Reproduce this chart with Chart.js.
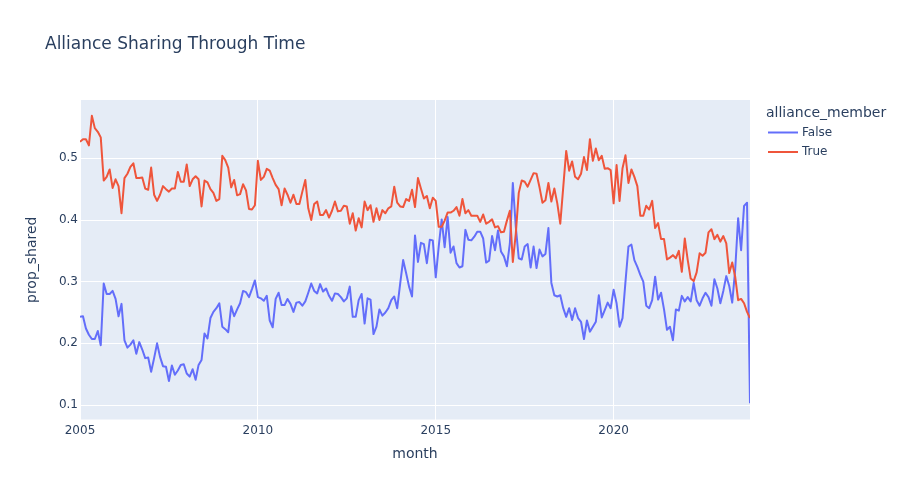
<!DOCTYPE html>
<html>
<head>
<meta charset="utf-8">
<script src="https://cdn.jsdelivr.net/npm/chart.js@4.4.1/dist/chart.umd.min.js"></script>
<style>
html,body{margin:0;padding:0;background:#ffffff;}
#wrap{position:relative;width:900px;height:500px;}
</style>
</head>
<body>
<div id="wrap"><canvas id="c" width="900" height="500"></canvas></div>
<script>
// ---- data ----
const chartTitle = 'Alliance Sharing Through Time';
const legendTitle = 'alliance_member';
const seriesNames = ['False', 'True'];
const xTickYears = [2005, 2010, 2015, 2020];
const yTickValues = [0.1, 0.2, 0.3, 0.4, 0.5];
const startYear = 2005;

const falseValues = [
  0.243,0.244,0.224,0.214,0.207,0.207,0.220,0.197,0.297,0.280,0.280,0.285,0.272,0.244,0.264,0.205,0.193,0.198,0.205,0.183,0.202,0.190,0.176,0.177,0.154,0.176,0.200,0.178,0.163,0.162,0.139,0.164,0.149,0.156,0.165,0.166,0.151,0.146,0.158,
  0.141,0.165,0.173,0.216,0.208,0.241,0.251,0.257,0.265,0.227,0.223,0.218,0.260,0.244,0.255,0.265,0.285,0.283,0.275,0.288,0.302,0.275,0.273,0.269,0.277,0.237,0.226,0.272,0.282,0.262,0.262,0.272,0.264,0.251,0.266,0.267,0.261,0.268,
  0.282,0.297,0.285,0.281,0.296,0.284,0.289,0.277,0.269,0.281,0.280,0.275,0.268,0.273,0.292,0.243,0.243,0.270,0.280,0.232,0.273,0.271,0.215,0.227,0.255,0.245,0.250,0.257,0.270,0.276,0.257,0.297,0.335,0.314,0.292,0.276,0.375,
  0.332,0.363,0.361,0.330,0.368,0.367,0.307,0.357,0.401,0.356,0.405,0.347,0.357,0.330,0.323,0.325,0.384,0.368,0.367,0.373,0.381,0.381,0.370,0.331,0.334,0.374,0.351,0.383,0.349,0.341,0.325,0.362,0.460,0.389,0.338,0.336,0.357,0.361,
  0.323,0.357,0.322,0.352,0.341,0.345,0.387,0.298,0.278,0.276,0.278,0.257,0.243,0.257,0.238,0.257,0.241,0.235,0.207,0.237,0.219,0.227,0.235,0.278,0.242,0.254,0.266,0.257,0.287,0.265,0.227,0.241,0.300,0.357,0.360,0.335,0.324,0.311,
  0.300,0.261,0.257,0.270,0.308,0.271,0.282,0.255,0.222,0.227,0.205,0.255,0.253,0.277,0.268,0.275,0.268,0.298,0.270,0.261,0.273,0.282,0.275,0.261,0.304,0.289,0.265,0.285,0.309,0.293,0.266,0.319,0.403,0.351,0.423,0.428,0.103
];

const trueValues = [
  0.527,0.531,0.531,0.521,0.569,0.549,0.543,0.534,0.464,0.470,0.482,0.452,0.466,0.455,0.411,0.468,0.475,0.486,0.492,0.468,0.468,0.469,0.451,0.449,0.485,0.441,0.431,0.441,0.455,0.450,0.446,0.451,0.451,0.478,0.462,0.462,0.490,0.455,0.466,
  0.471,0.466,0.422,0.464,0.461,0.450,0.444,0.431,0.434,0.504,0.497,0.485,0.453,0.465,0.440,0.442,0.458,0.448,0.418,0.417,0.424,0.496,0.465,0.470,0.483,0.480,0.468,0.457,0.450,0.424,0.451,0.441,0.428,0.441,0.426,0.426,0.446,0.465,
  0.419,0.400,0.426,0.430,0.408,0.408,0.416,0.404,0.415,0.430,0.414,0.415,0.423,0.422,0.394,0.411,0.383,0.403,0.388,0.430,0.416,0.424,0.397,0.419,0.400,0.416,0.411,0.419,0.422,0.454,0.428,0.422,0.421,0.434,0.431,0.449,0.421,
  0.468,0.451,0.435,0.439,0.419,0.436,0.431,0.389,0.389,0.399,0.412,0.412,0.415,0.421,0.407,0.434,0.411,0.416,0.407,0.407,0.407,0.397,0.409,0.394,0.397,0.401,0.388,0.390,0.380,0.381,0.399,0.415,0.332,0.378,0.444,0.464,0.462,0.454,
  0.465,0.476,0.475,0.453,0.428,0.432,0.460,0.430,0.451,0.427,0.394,0.453,0.512,0.480,0.495,0.470,0.466,0.475,0.502,0.481,0.531,0.496,0.516,0.497,0.504,0.483,0.484,0.481,0.427,0.489,0.431,0.484,0.505,0.460,0.482,0.470,0.455,0.407,
  0.407,0.423,0.417,0.431,0.387,0.395,0.369,0.369,0.336,0.339,0.343,0.338,0.350,0.316,0.370,0.335,0.305,0.301,0.315,0.346,0.342,0.347,0.380,0.385,0.369,0.376,0.365,0.374,0.362,0.314,0.331,0.308,0.270,0.272,0.265,0.251,0.241
];

// month categories "YYYY-MM"
const months = falseValues.map((_, i) => {
  const y = startYear + Math.floor(i / 12);
  const m = (i % 12) + 1;
  return y + '-' + String(m).padStart(2, '0');
});

// ---- styling ----
const FONT = '"DejaVu Sans", Verdana, "Liberation Sans", sans-serif';
const TXT = '#2a3f5f';
const COLORS = ['#636efa', '#EF553B'];

function monthToX(label) {
  const [y, m] = label.split('-').map(Number);
  return y + (m - 1) / 12;
}

function toPoints(values) {
  return values.map((v, i) => ({ x: monthToX(months[i]), y: v }));
}

const bgPlugin = {
  id: 'bg',
  beforeDraw(chart) {
    const { ctx, chartArea: a } = chart;
    ctx.save();
    ctx.fillStyle = '#ffffff';
    ctx.fillRect(0, 0, chart.width, chart.height);
    ctx.fillStyle = '#E5ECF6';
    ctx.fillRect(a.left, a.top, a.right - a.left, a.bottom - a.top);
    ctx.restore();
  },
  afterDraw(chart) {
    const ctx = chart.ctx;
    ctx.save();
    ctx.fillStyle = TXT;
    ctx.textBaseline = 'middle';
    ctx.textAlign = 'left';
    ctx.font = '17px ' + FONT;
    ctx.fillText(chartTitle, 45, 45);
    // legend
    ctx.font = '14px ' + FONT;
    ctx.fillText(legendTitle, 766, 113);
    ctx.font = '12px ' + FONT;
    const rows = [132.5, 152];
    seriesNames.forEach((name, i) => {
      ctx.strokeStyle = COLORS[i];
      ctx.lineWidth = 2;
      ctx.beginPath();
      ctx.moveTo(768, rows[i]);
      ctx.lineTo(798, rows[i]);
      ctx.stroke();
      ctx.fillStyle = TXT;
      ctx.fillText(name, 802, rows[i]);
    });
    ctx.restore();
  }
};

new Chart(document.getElementById('c'), {
  type: 'line',
  data: {
    datasets: [
      {
        label: seriesNames[0],
        data: toPoints(falseValues),
        borderColor: COLORS[0],
        backgroundColor: COLORS[0],
        borderWidth: 2,
        pointRadius: 0,
        tension: 0,
        fill: false,
        order: 1,
        borderJoinStyle: 'round'
      },
      {
        label: seriesNames[1],
        data: toPoints(trueValues),
        borderColor: COLORS[1],
        backgroundColor: COLORS[1],
        borderWidth: 2,
        pointRadius: 0,
        tension: 0,
        fill: false,
        order: 0,
        borderJoinStyle: 'round'
      }
    ]
  },
  options: {
    responsive: false,
    animation: false,
    events: [],
    layout: { padding: { left: 0, top: 100, right: 150, bottom: 0 } },
    plugins: {
      legend: { display: false },
      title: { display: false },
      tooltip: { enabled: false }
    },
    scales: {
      x: {
        type: 'linear',
        min: monthToX(months[0]),
        max: monthToX(months[months.length - 1]),
        afterBuildTicks: s => { s.ticks = xTickYears.map(v => ({ value: v })); },
        afterFit: s => { s.height = 80.5; },
        grid: { color: '#ffffff', lineWidth: 1, drawTicks: false },
        border: { display: false },
        ticks: {
          color: TXT, font: { family: FONT, size: 12 }, padding: 4,
          maxRotation: 0, autoSkip: false,
          callback: v => String(v)
        },
        title: {
          display: true, text: 'month', color: TXT,
          font: { family: FONT, size: 14 }, padding: { top: 0, bottom: 37 }
        }
      },
      y: {
        type: 'linear',
        min: 0.0765,
        max: 0.5946,
        afterBuildTicks: s => { s.ticks = yTickValues.map(v => ({ value: v })); },
        afterFit: s => { s.width = 80; },
        grid: { color: '#ffffff', lineWidth: 1, drawTicks: false },
        border: { display: false },
        ticks: {
          color: TXT, font: { family: FONT, size: 12 }, padding: 2,
          callback: v => v.toFixed(1)
        },
        title: {
          display: true, text: 'prop_shared', color: TXT,
          font: { family: FONT, size: 14 }, padding: { top: 24, bottom: 0 }
        }
      }
    }
  },
  plugins: [bgPlugin]
});
</script>
</body>
</html>
